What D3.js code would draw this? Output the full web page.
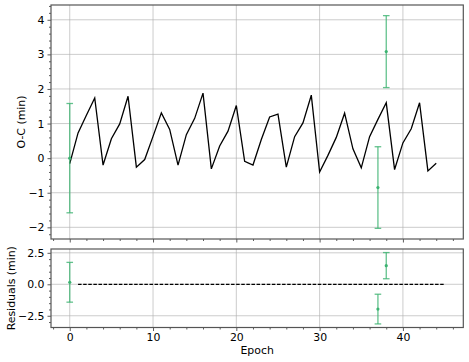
<!DOCTYPE html>
<html>
<head>
<meta charset="utf-8">
<script src="https://cdn.jsdelivr.net/npm/d3@7"></script>
<style>
  body { margin: 0; background: #fff; }
  text { font-family: "DejaVu Sans", sans-serif; }
</style>
</head>
<body>
<svg id="chart" width="469" height="362"></svg>
<script>
// model O-C curve, one value per epoch 0..44
const modelEpochs = d3.range(0, 45);
const modelOC = [
  -0.16, 0.73, 1.24, 1.74, -0.20, 0.56, 0.99, 1.79, -0.26, -0.04,
  0.63, 1.31, 0.83, -0.20, 0.68, 1.15, 1.88, -0.31, 0.35, 0.78,
  1.52, -0.09, -0.20, 0.54, 1.19, 1.27, -0.26, 0.62, 1.02, 1.82,
  -0.40, 0.08, 0.60, 1.30, 0.27, -0.28, 0.62, 1.12, 1.60, -0.33,
  0.44, 0.85, 1.60, -0.37, -0.15
];

// observed timings
const obsEpochs = [0, 37, 38];
const obsOC = [0.00, -0.85, 3.08];
const obsErr = [1.58, 1.18, 1.04];
const resid = [0.16, -1.97, 1.48];

// zero reference line in the residual panel
const zeroEpochs = [1, 45];
const zeroValues = [0, 0];

const xTicks = [0, 10, 20, 30, 40];
const topYTicks = [-2, -1, 0, 1, 2, 3, 4];
const botYTicks = [-2.5, 0, 2.5];

const svg = d3.select("#chart");
const left = 51, right = 463.3;
const topPanel = { y0: 5, y1: 239 };
const botPanel = { y0: 249, y1: 327.5 };
const green = "#3cb371";
const fmtMinus = (s) => String(s).replace("-", "\u2212");

const x = d3.scaleLinear().domain([-2.25, 47.25]).range([left, right]);

const padded = (lo, hi) => { const m = (hi - lo) * 0.05; return [lo - m, hi + m]; };

const topLo = d3.min([d3.min(modelOC), d3.min(obsOC.map((v, i) => v - obsErr[i]))]);
const topHi = d3.max([d3.max(modelOC), d3.max(obsOC.map((v, i) => v + obsErr[i]))]);
const yTop = d3.scaleLinear().domain(padded(topLo, topHi)).range([topPanel.y1, topPanel.y0]);

const botLo = d3.min(resid.map((v, i) => v - obsErr[i]));
const botHi = d3.max(resid.map((v, i) => v + obsErr[i]));
const yBot = d3.scaleLinear().domain(padded(botLo, botHi)).range([botPanel.y1, botPanel.y0]);

const drawPanel = (panel, y, yTicks, yMinorStep, showXLabels) => {
  const g = svg.append("g");

  // grid
  g.selectAll("line.vgrid")
    .data(xTicks)
    .enter().append("line")
      .attr("x1", (d) => x(d)).attr("x2", (d) => x(d))
      .attr("y1", panel.y0).attr("y2", panel.y1)
      .attr("stroke", "#b0b0b0").attr("stroke-opacity", 0.65).attr("stroke-width", 1);
  g.selectAll("line.hgrid")
    .data(yTicks)
    .enter().append("line")
      .attr("x1", left).attr("x2", right)
      .attr("y1", (d) => y(d)).attr("y2", (d) => y(d))
      .attr("stroke", "#b0b0b0").attr("stroke-opacity", 0.65).attr("stroke-width", 1);

  // x axis
  const xMinor = d3.range(-2, 47, 2).filter((d) => d % 10 !== 0);
  const xAxis = d3.axisBottom(x).tickValues(xTicks).tickSize(3.5).tickPadding(2.5)
    .tickFormat(showXLabels ? d3.format("d") : "");
  const xa = g.append("g").attr("transform", `translate(0,${panel.y1})`).call(xAxis);
  g.append("g").attr("transform", `translate(0,${panel.y1})`)
    .call(d3.axisBottom(x).tickValues(xMinor).tickSize(2).tickFormat(""))
    .call((a) => a.select(".domain").remove());

  // y axis
  const [ylo, yhi] = y.domain();
  const yMinor = d3.range(Math.ceil(ylo / yMinorStep) * yMinorStep, yhi, yMinorStep)
    .filter((d) => !yTicks.some((t) => Math.abs(t - d) < 1e-6));
  const ya = g.append("g").attr("transform", `translate(${left},0)`)
    .call(d3.axisLeft(y).tickValues(yTicks).tickSize(3.5).tickPadding(3)
      .tickFormat((d) => fmtMinus(yTicks === botYTicks ? d3.format(".1f")(d) : d3.format("d")(d))));
  g.append("g").attr("transform", `translate(${left},0)`)
    .call(d3.axisLeft(y).tickValues(yMinor).tickSize(2).tickFormat(""))
    .call((a) => a.select(".domain").remove());

  [xa, ya].forEach((a) => {
    a.select(".domain").remove();
    a.selectAll("text").style("font-size", "10.9px").attr("fill", "#000");
  });
  g.selectAll(".tick line").attr("stroke", "#333").attr("stroke-width", 0.8);

  // frame
  g.append("rect")
    .attr("x", left).attr("y", panel.y0)
    .attr("width", right - left).attr("height", panel.y1 - panel.y0)
    .attr("fill", "none").attr("stroke", "#555").attr("stroke-width", 1.2);

  return g;
};

const gTop = drawPanel(topPanel, yTop, topYTicks, 0.2, false);
const gBot = drawPanel(botPanel, yBot, botYTicks, 0.5, true);

// model curve
const modelLine = d3.line()
  .x((d, i) => x(modelEpochs[i]))
  .y((d) => yTop(d));
gTop.append("path")
  .datum(modelOC)
  .attr("d", modelLine)
  .attr("fill", "none")
  .attr("stroke", "#000")
  .attr("stroke-width", 1.3)
  .attr("stroke-linejoin", "miter");

// error bars
const appendErrorBars = (g, y, values) => {
  const rows = obsEpochs.map((e, i) => ({ e, v: values[i], err: obsErr[i] }));
  const eb = g.selectAll("g.eb").data(rows).enter().append("g")
    .attr("class", "eb")
    .attr("stroke", green).attr("stroke-opacity", 0.8).attr("stroke-width", 1.3);
  eb.append("line")
    .attr("x1", (d) => x(d.e)).attr("x2", (d) => x(d.e))
    .attr("y1", (d) => y(d.v - d.err)).attr("y2", (d) => y(d.v + d.err));
  [-1, 1].forEach((s) => {
    eb.append("line")
      .attr("x1", (d) => x(d.e) - 3.3).attr("x2", (d) => x(d.e) + 3.3)
      .attr("y1", (d) => y(d.v + s * d.err)).attr("y2", (d) => y(d.v + s * d.err));
  });
  eb.append("circle")
    .attr("cx", (d) => x(d.e)).attr("cy", (d) => y(d.v))
    .attr("r", 1.6).attr("fill", green).attr("stroke", "none");
};
appendErrorBars(gTop, yTop, obsOC);
appendErrorBars(gBot, yBot, resid);

// zero line
gBot.append("path")
  .datum(zeroEpochs.map((e, i) => [e, zeroValues[i]]))
  .attr("d", d3.line().x((d) => x(d[0])).y((d) => yBot(d[1])))
  .attr("fill", "none")
  .attr("stroke", "#000")
  .attr("stroke-width", 1.2)
  .attr("stroke-dasharray", "3.5,1.6");

// labels
svg.append("text")
  .attr("transform", `translate(25,${(topPanel.y0 + topPanel.y1) / 2}) rotate(-90)`)
  .attr("text-anchor", "middle")
  .style("font-size", "10.9px")
  .text("O-C (min)");
svg.append("text")
  .attr("transform", `translate(14.5,${(botPanel.y0 + botPanel.y1) / 2}) rotate(-90)`)
  .attr("text-anchor", "middle")
  .style("font-size", "10.9px")
  .text("Residuals (min)");
svg.append("text")
  .attr("x", (left + right) / 2)
  .attr("y", 353.5)
  .attr("text-anchor", "middle")
  .style("font-size", "10.9px")
  .text("Epoch");
</script>
</body>
</html>
